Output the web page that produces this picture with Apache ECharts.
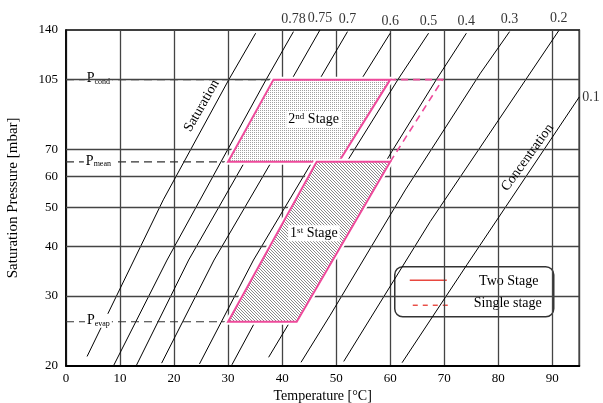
<!DOCTYPE html>
<html><head><meta charset="utf-8">
<script src="https://cdn.jsdelivr.net/npm/echarts@6/dist/echarts.min.js"></script>
<style>html,body{margin:0;padding:0;background:#fff}#c{width:603px;height:403px}</style>
</head><body><div id="c"></div>
<script>
// ---- data ----
const xTicks = [0, 10, 20, 30, 40, 50, 60, 70, 80, 90];
const yTicks = [20, 30, 40, 50, 60, 70, 105, 140];
const concLabels = ['0.78', '0.75', '0.7', '0.6', '0.5', '0.4', '0.3', '0.2', '0.1'];
const saturationLine = [[3.9, 21.1], [18.0, 52.3], [30.1, 104.8], [35.1, 137.4]];
const c078 = [[8.8, 20], [18.7, 36.9], [37.0, 104.8], [42.1, 138.7]];
const c075 = [[13.0, 20], [22.7, 36.9], [47.0, 140]];
const c070 = [[17.7, 20.3], [27.4, 36.9], [52.1, 138.7]];
const c060 = [[24.7, 20.2], [34.7, 36.9], [54.8, 105.9], [60.0, 137.4]];
const c050 = [[30.7, 20.1], [35.0, 25.8], [52.0, 65.3], [61.5, 105.4], [67.1, 137.4]];
const c040 = [[37.5, 21.0], [41.3, 25.6], [60.3, 69.2], [68.5, 104.8], [74.1, 137.4]];
const c030 = [[43.5, 20.4], [48.9, 26.8], [62.8, 55.4], [76.7, 109.0], [82.1, 138.7]];
const c020 = [[51.4, 20.5], [67.4, 46.1], [91.2, 139.5]];
const c010 = [[62.2, 20.35], [74.2, 35.9], [95.0, 95.0]];
const concLines = [c078, c075, c070, c060, c050, c040, c030, c020, c010];

const pCond = 105, pMean = 65.2, pEvap = 25.8;
const pressureNames = ['cond', 'mean', 'evap'];
const pressureValues = [pCond, pMean, pEvap];
const pressureLineEnds = [38.4, 30, 30];

const stage2 = [[30, pMean], [38.4, pCond], [60, pCond], [50.5, pMean]];
const stage1 = [[46.4, pMean], [60, pMean], [42.7, pEvap], [30, pEvap]];
const singleStage = [[60, pMean], [69.7, pCond], [60, pCond]];

// ---- patterns ----
function makeStipple() {
  const c = document.createElement('canvas'); c.width = 2; c.height = 2;
  const g = c.getContext('2d');
  g.fillStyle = '#fff'; g.fillRect(0, 0, 2, 2);
  g.fillStyle = '#a0a0a0'; g.fillRect(0, 0, 1, 1);
  return c;
}
function makeHatch() {
  const c = document.createElement('canvas'); c.width = 3; c.height = 3;
  const g = c.getContext('2d');
  g.fillStyle = '#fff'; g.fillRect(0, 0, 3, 3);
  g.fillStyle = '#8a8a8a';
  for (let i = 0; i < 3; i++) g.fillRect(i, i, 1, 1);
  return c;
}
const stipple = { type: 'pattern', image: makeStipple(), repeat: 'repeat' };
const hatch = { type: 'pattern', image: makeHatch(), repeat: 'repeat' };

const FONT = 'Liberation Serif, Times New Roman, serif';
const PINK = '#ee4a9b';
const LEGRED = '#e8473f';

const lineSeries = [saturationLine].concat(concLines).map((d, i) => ({
  type: 'line', data: d, showSymbol: false, silent: true, z: 2,
  lineStyle: { color: '#000', width: 1 }, clip: true
}));

const chart = echarts.init(document.getElementById('c'));
chart.setOption({
  animation: false,
  backgroundColor: '#fff',
  grid: { left: 66, right: 23.7, top: 30, bottom: 37.3, show: true, borderColor: '#000', borderWidth: 1.5, backgroundColor: 'transparent', outerBoundsMode: 'none' },
  xAxis: {
    type: 'value', min: 0, max: 95, interval: 10,
    name: 'Temperature [°C]', nameLocation: 'middle', nameGap: 23,
    nameTextStyle: { fontFamily: FONT, fontSize: 14, color: '#000' },
    axisLine: { show: true, lineStyle: { color: '#000', width: 2 } },
    axisTick: { show: false },
    axisLabel: { fontFamily: FONT, fontSize: 13, color: '#000', margin: 6, showMaxLabel: false },
    splitLine: { show: true, lineStyle: { color: '#444', width: 1.3 } }
  },
  yAxis: {
    type: 'log', logBase: 10, min: 20, max: 140,
    name: 'Saturation Pressure [mbar]', nameLocation: 'middle', nameGap: 45,
    nameTextStyle: { fontFamily: FONT, fontSize: 15, color: '#000' },
    axisLine: { show: true, lineStyle: { color: '#000', width: 1.5 } },
    axisTick: { show: false, customValues: yTicks },
    axisLabel: { fontFamily: FONT, fontSize: 13, color: '#000', margin: 8, customValues: yTicks, formatter: v => String(Math.round(v)) },
    splitLine: { show: false }
  },
  graphic: [
    { type: 'text', x: 201.7, y: 105.8, rotation: Math.PI / 3, z: 20,
      style: { text: 'Saturation', align: 'center', verticalAlign: 'middle', font: '14px ' + FONT, fill: '#000' } },
    { type: 'text', x: 527.5, y: 157.5, rotation: 54 * Math.PI / 180, z: 20,
      style: { text: 'Concentration', align: 'center', verticalAlign: 'middle', font: '14px ' + FONT, fill: '#000' } },
    { type: 'group', left: 394, top: 266, z: 30, children: [
      { type: 'rect', shape: { x: 0, y: 0, width: 159, height: 50, r: 8 }, style: { fill: '#fff', stroke: '#333', lineWidth: 1.5 } },
      { type: 'line', shape: { x1: 15, y1: 13.5, x2: 52, y2: 13.5 }, style: { stroke: LEGRED, lineWidth: 1.6 } },
      { type: 'line', shape: { x1: 18, y1: 38.5, x2: 57, y2: 38.5 }, style: { stroke: LEGRED, lineWidth: 1.4, lineDash: [5, 5] } },
      { type: 'text', x: 114, y: 14.5, style: { text: 'Two Stage', align: 'center', verticalAlign: 'middle', font: '14px ' + FONT, fill: '#000' } },
      { type: 'text', x: 113, y: 37, style: { text: 'Single stage', align: 'center', verticalAlign: 'middle', font: '14px ' + FONT, fill: '#000' } }
    ] }
  ],
  series: lineSeries.concat([
    { // horizontal grid lines
      type: 'line', data: [], silent: true, z: 1,
      markLine: { silent: true, symbol: 'none', label: { show: false },
        lineStyle: { color: '#444', type: 'solid', width: 1.3 },
        data: yTicks.slice(1, -1).map(v => ({ yAxis: v })) }
    },
    { // concentration labels
      type: 'scatter', symbolSize: 0, silent: true, z: 3,
      data: concLabels.map((n, i) => {
        const last = concLines[i][concLines[i].length - 1];
        const item = { value: last, name: n };
        if (n === '0.1') item.label = { position: 'right', distance: 3 };
        return item;
      }),
      label: { show: true, position: 'top', distance: 5, formatter: p => p.name, fontFamily: FONT, fontSize: 14, color: '#000' }
    },
    { // pressure levels
      type: 'custom', coordinateSystem: 'cartesian2d', z: 4, silent: true,
      data: pressureValues.map(p => [0, p]),
      renderItem: (params, api) => {
        const i = params.dataIndex, p = pressureValues[i];
        const a = api.coord([0, p]), b = api.coord([pressureLineEnds[i], p]), t = api.coord([6, p]);
        return { type: 'group', children: [
          { type: 'line', shape: { x1: a[0], y1: a[1], x2: b[0], y2: b[1] }, style: { stroke: '#333', lineWidth: 1.2, lineDash: [8, 5] } },
          { type: 'text', x: t[0], y: t[1] - 1, style: {
            text: 'P{s|' + pressureNames[i] + '}', align: 'center', verticalAlign: 'middle',
            fontFamily: FONT, fontSize: 14, fill: '#000', backgroundColor: '#fff', padding: [0, 2],
            rich: { s: { fontFamily: FONT, fontSize: 8, fill: '#000', verticalAlign: 'bottom', padding: [9, 0, 0, 0], lineHeight: 8 } }
          } }
        ] };
      }
    },
    { // stages
      type: 'custom', coordinateSystem: 'cartesian2d', z: 6, silent: true,
      data: [[0], [1]],
      renderItem: (params, api) => {
        const i = params.dataIndex;
        const poly = i === 0 ? stage2 : stage1;
        const pts = poly.map(p => api.coord(p));
        const cx = pts.reduce((s, p) => s + p[0], 0) / 4, cy = pts.reduce((s, p) => s + p[1], 0) / 4;
        const txt = i === 0 ? '2{u|nd} Stage' : '1{u|st} Stage';
        return { type: 'group', children: [
          { type: 'polygon', shape: { points: pts }, style: { fill: '#fff', stroke: '#fff', lineWidth: 6 } },
          { type: 'polygon', shape: { points: pts }, style: { fill: i === 0 ? stipple : hatch, stroke: PINK, lineWidth: 2 } },
          { type: 'text', x: cx + 6, y: cy + (i === 0 ? -1.5 : -8.5), style: {
            text: txt, align: 'center', verticalAlign: 'middle', fontFamily: FONT, fontSize: 14, fill: '#000',
            backgroundColor: '#fff', padding: [1, 2],
            rich: { u: { fontFamily: FONT, fontSize: 9, fill: '#000', verticalAlign: 'top', lineHeight: 9 } }
          } }
        ] };
      }
    },
    { // single stage dashed
      type: 'custom', coordinateSystem: 'cartesian2d', z: 7, silent: true,
      data: [[0]],
      renderItem: (params, api) => ({
        type: 'polyline', shape: { points: singleStage.map(p => api.coord(p)) },
        style: { fill: 'none', stroke: PINK, lineWidth: 1.6, lineDash: [7, 5] }
      })
    }
  ])
});
</script></body></html>
